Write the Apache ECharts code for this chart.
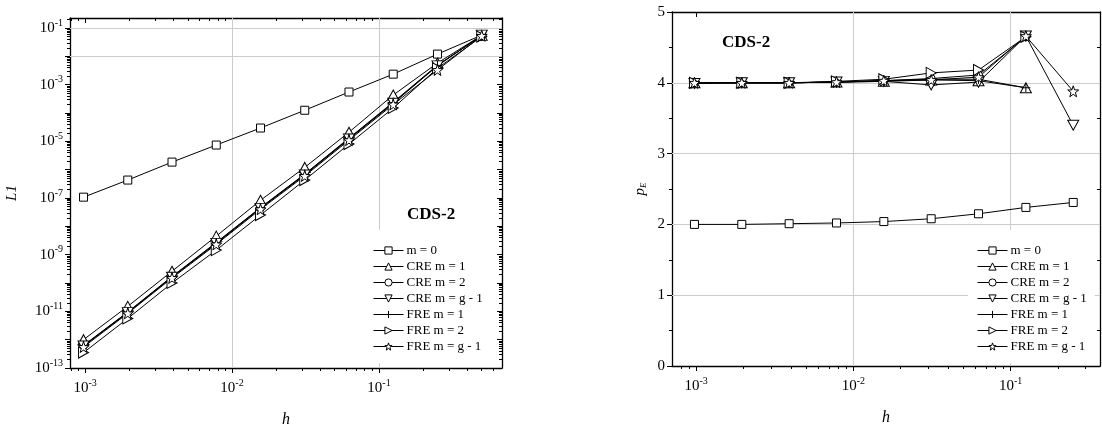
<!DOCTYPE html>
<html>
<head>
<meta charset="utf-8">
<script src="https://cdn.jsdelivr.net/npm/echarts@6/dist/echarts.min.js"></script>
<style>
html, body { margin: 0; padding: 0; background: #fff; }
#chart { width: 1102px; height: 427px; }
</style>
</head>
<body>
<div id="chart"></div>
<script>
var SERIF = '"Liberation Serif", "Times New Roman", serif'

// grid spacing h, left chart (L1 error)
var hL1 = [0.5, 0.25, 0.125, 0.0625, 0.03125, 0.015625, 0.0078125, 0.00390625, 0.001953125, 0.0009765625]
var l1M0 = [5.6e-2, 1.2e-2, 2.35e-3, 5.5e-4, 1.25e-4, 2.95e-5, 7.4e-6, 1.85e-6, 4.3e-7, 1.07e-7]
var l1Cre1 = [5.5e-2, 5.8e-3, 4.3e-4, 2.1e-5, 1.2e-6, 8.3e-8, 4.5e-9, 2.6e-10, 1.5e-11, 1.0e-12]
var l1Cre2 = [5.3e-2, 4.9e-3, 2.4e-4, 1.3e-5, 7.0e-7, 4.6e-8, 2.7e-9, 1.7e-10, 9.5e-12, 6.3e-13]
var l1CreG = [5.6e-2, 4.6e-3, 2.2e-4, 1.2e-5, 6.5e-7, 4.3e-8, 2.5e-9, 1.6e-10, 9.0e-12, 6.0e-13]
var l1Fre1 = [5.4e-2, 4.8e-3, 2.3e-4, 1.25e-5, 6.8e-7, 4.5e-8, 2.6e-9, 1.65e-10, 9.2e-12, 6.1e-13]
var l1Fre2 = [5.0e-2, 3.8e-3, 1.5e-4, 8.0e-6, 4.3e-7, 2.5e-8, 1.45e-9, 1.0e-10, 5.6e-12, 3.5e-13]
var l1FreG = [5.3e-2, 3.3e-3, 2.0e-4, 1.1e-5, 6.0e-7, 4.0e-8, 2.3e-9, 1.5e-10, 8.5e-12, 5.5e-13]

// grid spacing h, right chart (observed order p_E)
var hPE = [0.25, 0.125, 0.0625, 0.03125, 0.015625, 0.0078125, 0.00390625, 0.001953125, 0.0009765625]
var pM0 = [2.31, 2.24, 2.15, 2.08, 2.04, 2.02, 2.01, 2.00, 2.00]
var pCre1 = [null, 3.93, 4.03, 4.04, 4.02, 4.01, 4.00, 4.00, 4.00]
var pCre2 = [null, 4.65, 4.11, 4.06, 4.03, 4.01, 4.00, 4.00, 4.00]
var pCreG = [3.40, 4.66, 4.01, 3.97, 4.02, 4.01, 4.00, 4.00, 3.99]
var pFre1 = [null, 3.93, 4.05, 4.05, 4.03, 4.01, 4.00, 4.00, 4.00]
var pFre2 = [null, 4.65, 4.18, 4.14, 4.05, 4.02, 4.00, 4.00, 4.00]
var pFreG = [3.88, 4.66, 4.08, 4.04, 4.03, 4.01, 4.00, 4.00, 4.00]

var names = ['m = 0', 'CRE m = 1', 'CRE m = 2', 'CRE m = g - 1', 'FRE m = 1', 'FRE m = 2', 'FRE m = g - 1']

// tick values
var hMajor = [0.001, 0.01, 0.1]
var l1Decades = [1e-13, 1e-12, 1e-11, 1e-10, 1e-9, 1e-8, 1e-7, 1e-6, 1e-5, 1e-4, 1e-3, 1e-2, 1e-1]
var l1Labels = [1e-13, 1e-11, 1e-9, 1e-7, 1e-5, 1e-3, 1e-1]
var pMajor = [0, 1, 2, 3, 4, 5]
var pMinor = [0.5, 1.5, 2.5, 3.5, 4.5]

function logMinors(fromExp, toExp, min, max) {
  var out = []
  for (var e = fromExp; e <= toExp; e++) {
    for (var k = 2; k <= 9; k++) {
      var v = k * Math.pow(10, e)
      if (v > min && v < max) out.push(v)
    }
  }
  return out
}

var L = { xMin: 0.00079, xMax: 0.687, yMin: 1e-13, yMax: 0.2255 }
var R = { xMin: 0.000703, xMax: 0.37, yMin: 0, yMax: 5 }

function pow10(v) {
  var e = Math.round(Math.log10(v))
  return '{b|10}{s|' + e + '}'
}
var powRich = {
  b: { fontFamily: SERIF, fontSize: 15, color: '#000', lineHeight: 20 },
  s: { fontFamily: SERIF, fontSize: 10, color: '#000', verticalAlign: 'top', lineHeight: 12 }
}

function axis(type, grid, pos, min, max, ticks, len, inside, extra) {
  var a = {
    type: type, gridIndex: grid, position: pos, min: min, max: max, silent: true,
    axisLine: { show: true, onZero: false, lineStyle: { color: '#000', width: 1.3 } },
    axisTick: { show: true, inside: inside, length: len, customValues: ticks, lineStyle: { color: '#000', width: 1 } },
    axisLabel: { show: false },
    splitLine: { show: false }
  }
  for (var k in extra) a[k] = extra[k]
  return a
}

function xSet(type, grid, min, max, majors, minors, label, nameGap) {
  return [
    axis(type, grid, 'bottom', min, max, majors, 5, false, {
      axisLabel: { show: true, customValues: majors, formatter: pow10, rich: powRich, margin: 10 },
      name: label, nameLocation: 'middle', nameGap: nameGap,
      nameTextStyle: { fontFamily: SERIF, fontStyle: 'italic', fontSize: 16, color: '#000' }
    }),
    axis(type, grid, 'bottom', min, max, minors, 3, false, { axisLine: { show: false } }),
    axis(type, grid, 'top', min, max, majors, 5, true, {}),
    axis(type, grid, 'top', min, max, minors, 3, true, { axisLine: { show: false } })
  ]
}

function ySet(type, grid, min, max, majors, labels, minors, fmt, rich, name, nameRich, nameGap) {
  return [
    axis(type, grid, 'left', min, max, majors, 5, false, {
      axisLabel: { show: true, customValues: labels, formatter: fmt, rich: rich, margin: 7, fontFamily: SERIF, fontSize: 15, color: '#000' },
      name: name, nameLocation: 'middle', nameGap: nameGap, nameRotate: 90,
      nameTextStyle: { fontFamily: SERIF, fontStyle: 'italic', fontSize: 15, color: '#000', rich: nameRich }
    }),
    axis(type, grid, 'left', min, max, minors, 3, false, { axisLine: { show: false } }),
    axis(type, grid, 'right', min, max, majors, 5, true, {}),
    axis(type, grid, 'right', min, max, minors, 3, true, { axisLine: { show: false } })
  ]
}

var syms = [
  { symbol: 'rect', size: 8 },
  { symbol: 'path://M5,0L10,9L0,9Z', size: [11, 10] },
  { symbol: 'circle', size: 8 },
  { symbol: 'path://M0,0L10,0L5,9Z', size: [11, 10] },
  { symbol: 'path://M0,5L10,5M5,0L5,10', size: 9 },
  { symbol: 'path://M0,0L9,5L0,10Z', size: [10, 11] },
  { symbol: 'path://M5,0L6.18,3.38L9.76,3.45L6.9,5.62L7.94,9.05L5,7L2.06,9.05L3.1,5.62L0.24,3.45L3.82,3.38Z', size: 11 }
]

function pairs(xs, ys) {
  var out = []
  for (var i = 0; i < xs.length; i++) {
    if (ys[i] != null) out.push([xs[i], ys[i]])
  }
  return out
}

function makeSeries(i, xIdx, yIdx, data) {
  return {
    name: names[i], type: 'line', xAxisIndex: xIdx, yAxisIndex: yIdx,
    data: data, symbol: syms[i].symbol, symbolSize: syms[i].size,
    showAllSymbol: true, animation: false, silent: true, z: 3,
    lineStyle: { color: '#000', width: 1 },
    itemStyle: { color: '#fff', borderColor: '#000', borderWidth: 1 }
  }
}

// grid lines drawn as markLines so they sit only at the decades / integers
function gridLines(xIdx, yIdx, xs, ys, anchor) {
  return {
    type: 'line', xAxisIndex: xIdx, yAxisIndex: yIdx, z: 1, silent: true,
    data: [anchor], showSymbol: false, lineStyle: { opacity: 0 },
    markLine: {
      silent: true, z: 1, animation: false, symbol: ['none', 'none'],
      label: { show: false },
      lineStyle: { color: '#cccccc', width: 1, type: 'solid' },
      emphasis: { disabled: true },
      data: xs.map(function (v) { return { xAxis: v } }).concat(ys.map(function (v) { return { yAxis: v } }))
    }
  }
}

var l1Sets = [l1M0, l1Cre1, l1Cre2, l1CreG, l1Fre1, l1Fre2, l1FreG]
var pSets = [pM0, pCre1, pCre2, pCreG, pFre1, pFre2, pFreG]

var series = [
  gridLines(0, 0, hMajor, l1Decades.slice(1), [hL1[0], l1M0[0]]),
  gridLines(4, 4, hMajor, [1, 2, 3, 4], [hPE[0], pM0[0]])
]
l1Sets.forEach(function (ys, i) { series.push(makeSeries(i, 0, 0, pairs(hL1, ys))) })
pSets.forEach(function (ys, i) { series.push(makeSeries(i, 4, 4, pairs(hPE, ys))) })

var legendBase = {
  orient: 'vertical', itemWidth: 30, itemHeight: 9, itemGap: 3,
  backgroundColor: '#fff', selectedMode: false, data: names, z: 6,
  lineStyle: { width: 1 }, itemStyle: { borderWidth: 1 },
  textStyle: { fontFamily: SERIF, fontSize: 13, color: '#000', padding: [0, 0, 0, -2] }
}

var chart = echarts.init(document.getElementById('chart'))
chart.setOption({
  backgroundColor: '#fff',
  animation: false,
  title: [
    { text: 'CDS-2', left: 407, top: 206, padding: 0, textStyle: { fontFamily: SERIF, fontWeight: 'bold', fontSize: 17, color: '#000' } },
    { text: 'CDS-2', left: 722, top: 34, padding: 0, textStyle: { fontFamily: SERIF, fontWeight: 'bold', fontSize: 17, color: '#000' } }
  ],
  legend: [
    Object.assign({}, legendBase, { left: 369, top: 230, padding: [14, 8, 10, 4] }),
    Object.assign({}, legendBase, { left: 968, top: 230, padding: [14, 8, 10, 9] })
  ],
  grid: [
    { left: 70, top: 18, width: 432, height: 350, outerBoundsMode: 'none', containLabel: false },
    { left: 672, top: 12, width: 428, height: 354, outerBoundsMode: 'none', containLabel: false }
  ],
  xAxis: [].concat(
    xSet('log', 0, L.xMin, L.xMax, hMajor, logMinors(-4, -1, L.xMin, L.xMax), 'h', 44),
    xSet('log', 1, R.xMin, R.xMax, hMajor, logMinors(-4, -1, R.xMin, R.xMax), 'h', 44)
  ),
  yAxis: [].concat(
    ySet('log', 0, L.yMin, L.yMax, l1Decades, l1Labels, logMinors(-13, -1, L.yMin, L.yMax), pow10, powRich, 'L1', null, 50),
    ySet('value', 1, R.yMin, R.yMax, pMajor, pMajor, pMinor, '{value}', null,
      '{p|p}{e|E}', {
        p: { fontFamily: SERIF, fontStyle: 'italic', fontSize: 15, color: '#000' },
        e: { fontFamily: SERIF, fontStyle: 'italic', fontSize: 9, color: '#000', verticalAlign: 'bottom', lineHeight: 10 }
      }, 24)
  ),
  series: series
})
</script>
</body>
</html>
